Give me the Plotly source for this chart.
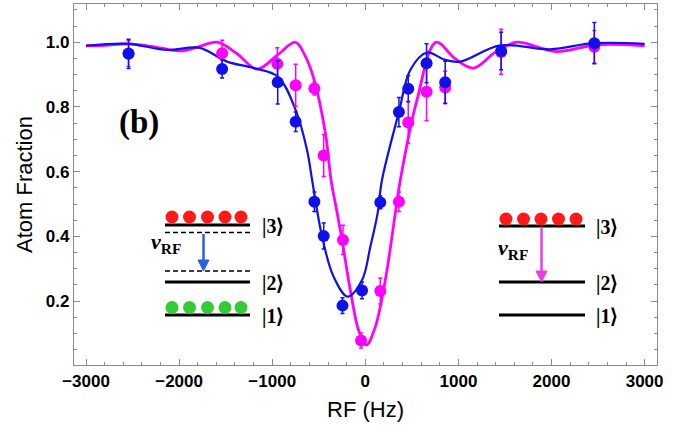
import plotly.graph_objects as go

# ---------------- data ----------------
freq_blue = [-2543, -1538, -941, -748, -547, -447, -245, -35, 161, 361, 461, 658, 858, 1459, 2460]
frac_blue = [0.964, 0.917, 0.876, 0.754, 0.507, 0.401, 0.186, 0.233, 0.505, 0.784, 0.856, 0.935, 0.876, 0.973, 0.997]
err_blue = [0.045, 0.028, 0.067, 0.03, 0.03, 0.04, 0.024, 0.026, 0.02, 0.045, 0.04, 0.06, 0.065, 0.058, 0.064]

freq_mag = [-2543, -1538, -945, -748, -547, -447, -240, -45, 161, 361, 461, 658, 858, 1459, 2460]
frac_mag = [0.965, 0.966, 0.933, 0.867, 0.857, 0.65, 0.389, 0.078, 0.231, 0.507, 0.752, 0.847, 0.86, 0.97, 0.986]
err_mag = [0.04, 0.04, 0.05, 0.065, 0.02, 0.065, 0.045, 0.023, 0.04, 0.03, 0.065, 0.09, 0.05, 0.07, 0.05]

fit_mag_x = [-3000, -2800, -2540, -2250, -1980, -1800, -1591, -1380, -1162, -945, -751, -650, -555,
             -429, -368, -304, -250, -161, -72, 11, 107, 215, 322, 376, 554, 762, 960, 1162, 1400,
             1628, 1850, 2057, 2486, 3000]
fit_mag_y = [0.989, 0.99, 0.995, 0.985, 0.973, 0.985, 1.0, 0.965, 0.917, 0.96, 1.0, 0.96, 0.889,
             0.72, 0.574, 0.475, 0.389, 0.234, 0.11, 0.064, 0.12, 0.265, 0.471, 0.574, 0.82, 1.0,
             0.95, 0.92, 0.97, 1.0, 0.985, 0.971, 0.992, 0.989]

fit_blue_x = [-3000, -2543, -2128, -1788, -1484, -1198, -941, -748, -626, -572, -465, -340, -189,
              -35, 54, 132, 179, 361, 483, 662, 850, 1019, 1448, 1985, 2450, 3000]
fit_blue_y = [0.989, 0.995, 0.976, 0.983, 0.94, 0.92, 0.894, 0.79, 0.667, 0.575, 0.40, 0.275, 0.214,
              0.265, 0.368, 0.471, 0.574, 0.784, 0.914, 0.968, 0.946, 0.94, 0.99, 0.978, 0.997, 0.995]

x_ticks = [-3000, -2000, -1000, 0, 1000, 2000, 3000]
y_ticks = [0.2, 0.4, 0.6, 0.8, 1.0]

# ---------------- layout geometry (pixels) ----------------
W, H = 699, 430
L, R, T, B = 74, 657, 4, 365


def px(x):
    return (x - L) / (R - L)


def py(y):
    return (B - y) / (B - T)


BLUE = "#1010e8"
MAG = "#ff00ff"

fig = go.Figure()

fig.add_trace(go.Scatter(x=fit_mag_x, y=fit_mag_y, mode="lines", line=dict(color=MAG, width=2.8, shape="spline"),
                         hoverinfo="skip", showlegend=False))
fig.add_trace(go.Scatter(x=fit_blue_x, y=fit_blue_y, mode="lines", line=dict(color=BLUE, width=2.2, shape="spline"),
                         hoverinfo="skip", showlegend=False))
fig.add_trace(go.Scatter(x=freq_mag, y=frac_mag, mode="markers",
                         marker=dict(color=MAG, size=12),
                         error_y=dict(type="data", array=err_mag, color=MAG, thickness=1.5, width=2),
                         showlegend=False))
fig.add_trace(go.Scatter(x=freq_blue, y=frac_blue, mode="markers",
                         marker=dict(color=BLUE, size=12),
                         error_y=dict(type="data", array=err_blue, color=BLUE, thickness=1.5, width=2),
                         showlegend=False))

shapes = []
annots = []


def hline(x0, x1, y, width=3, dash="solid"):
    shapes.append(dict(type="line", xref="paper", yref="paper", x0=px(x0), x1=px(x1), y0=py(y), y1=py(y),
                       line=dict(color="black", width=width, dash=dash)))


def dot(cx, cy, color, r=6.5):
    shapes.append(dict(type="circle", xref="paper", yref="paper", x0=px(cx - r), x1=px(cx + r),
                       y0=py(cy + r), y1=py(cy - r), fillcolor=color, line=dict(width=0)))


def arrow(x, y0, y1, color):
    shapes.append(dict(type="line", xref="paper", yref="paper", x0=px(x), x1=px(x), y0=py(y0), y1=py(y1 - 9),
                       line=dict(color=color, width=2.5)))
    path = "M {} {} L {} {} L {} {} Z".format(px(x - 5.5), py(y1 - 11), px(x + 5.5), py(y1 - 11), px(x), py(y1))
    shapes.append(dict(type="path", xref="paper", yref="paper", path=path, fillcolor=color,
                       line=dict(color=color, width=1)))


def label(x, y, text, size=19, family="Liberation Serif", xanchor="left"):
    annots.append(dict(xref="paper", yref="paper", x=px(x), y=py(y), text=text, showarrow=False,
                       font=dict(family=family, size=size, color="black"), xanchor=xanchor, yanchor="middle"))


RED = "#ff1a1a"
GREEN = "#33cc33"

# left level diagram
hline(165, 250, 225)
hline(165, 250, 232.5, width=1.5, dash="5px,3px")
hline(165, 250, 271, width=1.5, dash="5px,3px")
hline(165, 250, 282)
hline(165, 250, 315)
for cx in [172, 189.5, 207.5, 225, 241]:
    dot(cx, 217, RED)
for cx in [172, 189.5, 207.5, 225, 241]:
    dot(cx, 307.5, GREEN)
arrow(203.5, 234, 271, "#2a5ee8")
label(149, 243, "<b><i>ν</i></b><sub><b>RF</b></sub>", size=22)
label(260, 226, "<b>|3⟩</b>", size=20)
label(260, 283, "<b>|2⟩</b>", size=20)
label(260, 316, "<b>|1⟩</b>", size=20)

# right level diagram
hline(499, 585, 226)
hline(499, 585, 282)
hline(499, 585, 315)
for cx in [506, 523.5, 541, 558.5, 576]:
    dot(cx, 219, RED)
arrow(541.5, 227, 282, "#e83ee8")
label(496, 249, "<b><i>ν</i></b><sub><b>RF</b></sub>", size=22)
label(594, 227, "<b>|3⟩</b>", size=20)
label(594, 283, "<b>|2⟩</b>", size=20)
label(594, 316, "<b>|1⟩</b>", size=20)

# (b)
label(139, 122, "<b>(b)</b>", size=33, xanchor="center")

# axis titles
annots.append(dict(xref="paper", yref="paper", x=px(365), y=py(410), text="RF (Hz)", showarrow=False,
                   font=dict(family="Liberation Sans", size=22, color="black"), xanchor="center", yanchor="middle"))
annots.append(dict(xref="paper", yref="paper", x=px(24), y=py(185), text="Atom Fraction", showarrow=False,
                   textangle=-90, font=dict(family="Liberation Sans", size=22, color="black"),
                   xanchor="center", yanchor="middle"))

axis_common = dict(showline=True, linecolor="#8a8a8a", linewidth=1.2, mirror="ticks", ticks="inside",
                   ticklen=6, tickcolor="#8a8a8a", tickwidth=1, showgrid=False, zeroline=False, automargin=False,
                   tickfont=dict(family="Liberation Sans", size=17, color="black", weight="bold"))

fig.update_layout(
    width=W, height=H, margin=dict(l=L, r=W - R, t=T, b=H - B),
    plot_bgcolor="white", paper_bgcolor="white",
    shapes=shapes, annotations=annots,
    xaxis=dict(range=[-3129, 3133], tickvals=x_ticks, tickformat="d",
               minor=dict(ticks="inside", dtick=200, tick0=0, ticklen=3, tickcolor="#8a8a8a", showgrid=False),
               **axis_common),
    yaxis=dict(range=[0.0025, 1.118], tickvals=y_ticks, tickformat=".1f",
               minor=dict(ticks="inside", dtick=0.05, tick0=0, ticklen=3, tickcolor="#8a8a8a", showgrid=False),
               **axis_common),
)

fig.write_html("out.html", config={"displayModeBar": False},
               post_script="document.body.style.margin='0px';document.body.style.overflow='hidden';")
